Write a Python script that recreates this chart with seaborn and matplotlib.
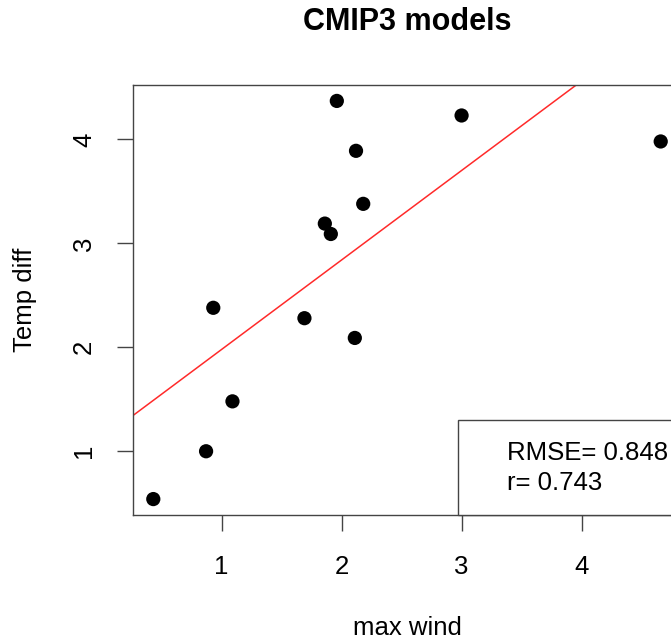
"""CMIP3 models: max wind vs temperature difference, R base-graphics look."""
import matplotlib
matplotlib.use("Agg")
import matplotlib.pyplot as plt
from matplotlib.patches import Rectangle
import numpy as np
import pandas as pd
import seaborn as sns

# -- Data ----------------------------------------------------------------------
max_wind = [0.43, 0.87, 1.09, 0.93, 1.69, 2.11, 1.86, 1.91, 2.18, 2.12, 1.96, 3.00, 4.66]
temp_diff = [0.54, 1.00, 1.48, 2.38, 2.28, 2.09, 3.19, 3.09, 3.38, 3.89, 4.37, 4.23, 3.98]
x_ticks = [1, 2, 3, 4]
y_ticks = [1, 2, 3, 4]
stats_lines = ["RMSE= 0.848", "r= 0.743"]

FRAME = "#444444"

sns.set_theme(style="white")
plt.rcParams["font.family"] = ["Liberation Sans", "DejaVu Sans"]
plt.rcParams["font.size"] = 18.5
plt.rcParams["text.color"] = "black"
plt.rcParams["axes.labelcolor"] = "black"

df = pd.DataFrame({"max wind": max_wind, "Temp diff": temp_diff})

fig = plt.figure(figsize=(6.71, 6.44), dpi=100)
ax = fig.add_axes([133 / 671, 129 / 644, 548 / 671, 430 / 644])


# R-style 4% axis padding
def r_lim(v):
    lo, hi = min(v), max(v)
    pad = 0.04 * (hi - lo)
    return lo - pad, hi + pad


ax.set_xlim(*r_lim(max_wind))
ax.set_ylim(*r_lim(temp_diff))

sns.regplot(data=df, x="max wind", y="Temp diff", scatter=False, ci=None,
            truncate=False, line_kws={"color": "#ff2a2a", "linewidth": 1.1}, ax=ax)
sns.scatterplot(data=df, x="max wind", y="Temp diff", color="black", s=105,
                edgecolor="none", ax=ax, zorder=4)
ax.set_xlim(*r_lim(max_wind))
ax.set_ylim(*r_lim(temp_diff))

# frame and ticks
for side in ("left", "top", "bottom", "right"):
    ax.spines[side].set_color(FRAME)
    ax.spines[side].set_linewidth(1.0)
ax.set_xticks(x_ticks)
ax.set_yticks(y_ticks)
ax.tick_params(axis="both", which="major", direction="out", length=11.5, width=1.0,
               color=FRAME, labelcolor="black", labelsize=18.5,
               bottom=True, left=True)
ax.tick_params(axis="x", pad=17)
ax.tick_params(axis="y", pad=15, labelrotation=90)
for lab in ax.get_yticklabels():
    lab.set_va("center")

ax.set_xlabel("max wind", fontsize=18.5, color="black")
ax.set_ylabel("Temp diff", fontsize=18.5, color="black")
ax.xaxis.set_label_coords(0.5, -0.262)
ax.xaxis.label.set_va("center")
ax.yaxis.set_label_coords(-0.197, 0.5)
ax.yaxis.label.set_va("center")
ax.set_title("CMIP3 models", fontsize=22, fontweight="bold", color="black",
             y=1.1465, va="center", pad=0)

# bottom-right stats box
ax.add_patch(Rectangle((0.593, 0.0), 0.45, 0.221, transform=ax.transAxes,
                       facecolor="white", edgecolor=FRAME, linewidth=1.0,
                       zorder=5, clip_on=False))
ax.text(0.682, 0.144, stats_lines[0], transform=ax.transAxes, ha="left",
        va="center", fontsize=18.5, color="black", zorder=6)
ax.text(0.682, 0.074, stats_lines[1], transform=ax.transAxes, ha="left",
        va="center", fontsize=18.5, color="black", zorder=6)

fig.savefig("out.png", dpi=100)
